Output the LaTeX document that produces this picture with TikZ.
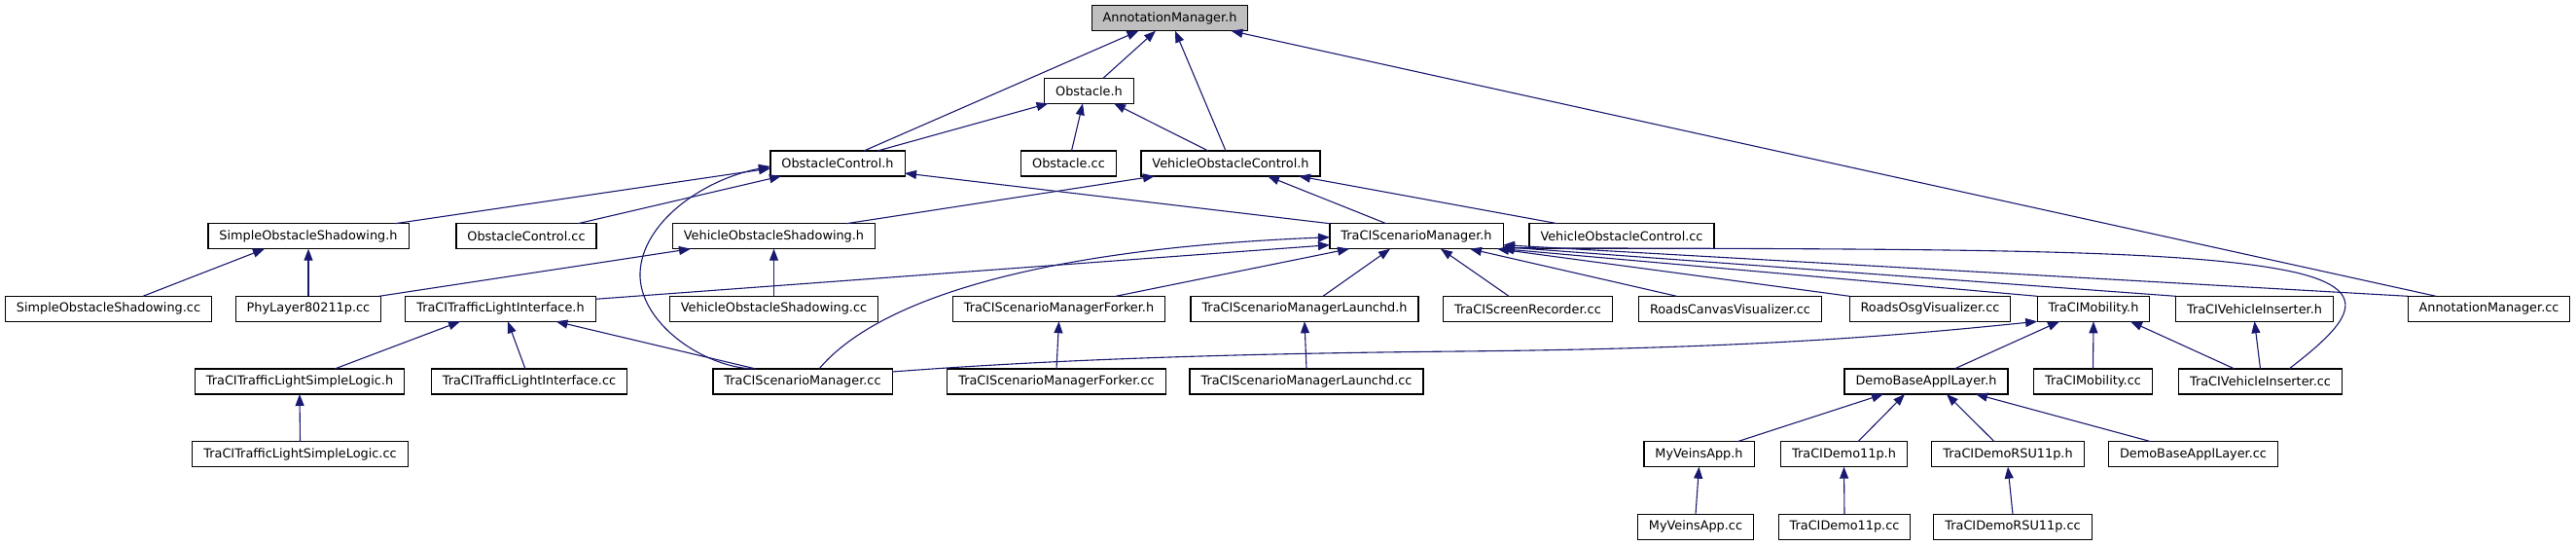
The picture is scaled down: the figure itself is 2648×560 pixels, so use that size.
\documentclass[tikz,border=0pt]{standalone}
\usepackage{fontspec}
\setmainfont{DejaVu Sans}
\usetikzlibrary{arrows.meta}
\definecolor{edgecol}{HTML}{191970}
\definecolor{rootfill}{HTML}{BFBFBF}
\begin{document}
\begin{tikzpicture}[x=1pt,y=1pt,
  box/.style={draw=black, line width=1.1pt, fill=white, minimum height=26pt, inner xsep=11.5pt, inner ysep=0pt, outer sep=0pt, font=\fontsize{12.85}{15}\selectfont, anchor=center},
  root/.style={box, fill=rootfill},
  dep/.style={draw=edgecol, line width=1.1pt, -{Triangle[length=12pt,width=9pt]}}]
\fill[white] (0,0) rectangle (2648,-560);
\useasboundingbox (0,0) rectangle (2648,-560);
% row 1
\node[root] (AMh) at (1202.5,-18.7) {AnnotationManager.h};
% row 2
\node[box] (Obsh) at (1119.5,-93.3) {Obstacle.h};
% row 3
\node[box] (OCh) at (861,-168) {ObstacleControl.h};
\node[box] (Obscc) at (1098.5,-168) {Obstacle.cc};
\node[box] (VOCh) at (1265,-168) {VehicleObstacleControl.h};
% row 4
\node[box] (SOSh) at (317,-242.7) {SimpleObstacleShadowing.h};
\node[box] (OCcc) at (541,-242.7) {ObstacleControl.cc};
\node[box] (VOSh) at (795.5,-242.7) {VehicleObstacleShadowing.h};
\node[box] (TSMh) at (1456,-242.7) {TraCIScenarioManager.h};
\node[box] (VOCcc) at (1667,-242.7) {VehicleObstacleControl.cc};
% row 5
\node[box] (SOScc) at (111.5,-317.3) {SimpleObstacleShadowing.cc};
\node[box] (PHYcc) at (317,-317.3) {PhyLayer80211p.cc};
\node[box] (TTLIh) at (514.5,-317.3) {TraCITrafficLightInterface.h};
\node[box] (VOScc) at (795.5,-317.3) {VehicleObstacleShadowing.cc};
\node[box] (Forkh) at (1088.5,-317.3) {TraCIScenarioManagerForker.h};
\node[box] (Lauh) at (1341,-317.3) {TraCIScenarioManagerLaunchd.h};
\node[box] (ScrRcc) at (1570.5,-317.3) {TraCIScreenRecorder.cc};
\node[box] (RCVcc) at (1778.5,-317.3) {RoadsCanvasVisualizer.cc};
\node[box] (ROVcc) at (1984,-317.3) {RoadsOsgVisualizer.cc};
\node[box] (TMh) at (2152,-317.3) {TraCIMobility.h};
\node[box] (TVIh) at (2317.5,-317.3) {TraCIVehicleInserter.h};
\node[box] (AMcc) at (2558.5,-317.3) {AnnotationManager.cc};
% row 6
\node[box] (TTLSLh) at (308,-392) {TraCITrafficLightSimpleLogic.h};
\node[box] (TTLIcc) at (544,-392) {TraCITrafficLightInterface.cc};
\node[box] (TSMcc) at (825,-392) {TraCIScenarioManager.cc};
\node[box] (Forkcc) at (1086,-392) {TraCIScenarioManagerForker.cc};
\node[box] (Laucc) at (1343,-392) {TraCIScenarioManagerLaunchd.cc};
\node[box] (DBALh) at (1980,-392) {DemoBaseApplLayer.h};
\node[box] (TMcc) at (2151.5,-392) {TraCIMobility.cc};
\node[box] (TVIcc) at (2323.5,-392) {TraCIVehicleInserter.cc};
% row 7
\node[box] (TTLSLcc) at (308.5,-466.7) {TraCITrafficLightSimpleLogic.cc};
\node[box] (MVAh) at (1746.5,-466.7) {MyVeinsApp.h};
\node[box] (TD11h) at (1895.5,-466.7) {TraCIDemo11p.h};
\node[box] (TDRSUh) at (2064,-466.7) {TraCIDemoRSU11p.h};
\node[box] (DBALcc) at (2254.5,-466.7) {DemoBaseApplLayer.cc};
% row 8
\node[box] (MVAcc) at (1743,-541.3) {MyVeinsApp.cc};
\node[box] (TD11cc) at (1896,-541.3) {TraCIDemo11p.cc};
\node[box] (TDRSUcc) at (2069,-541.3) {TraCIDemoRSU11p.cc};

% edges
\draw[dep] ([xshift=14.5pt]Obsh.north) -- ([xshift=-14.5pt]AMh.south);
\draw[dep] ([xshift=27pt]OCh.north) -- ([xshift=-32pt]AMh.south);
\draw[dep] ([xshift=-5pt]VOCh.north) -- ([xshift=5.5pt]AMh.south);
\draw[dep] ([xshift=-54.5pt]AMcc.north) -- ([xshift=63pt]AMh.south);
\draw[dep] ([xshift=41pt]OCh.north) -- ([xshift=-42pt]Obsh.south);
\draw[dep] ([xshift=3pt]Obscc.north) -- ([xshift=-6.5pt]Obsh.south);
\draw[dep] ([xshift=-23pt]VOCh.north) -- ([xshift=25.5pt]Obsh.south);
\draw[dep] ([xshift=89pt]SOSh.north) -- ([yshift=-5pt]OCh.west);
\draw[dep] ([xshift=53pt]OCcc.north) -- ([xshift=-58pt]OCh.south);
\draw[dep] ([xshift=-52pt]TSMcc.north) .. controls (720,-376) and (656,-330) .. (658,-280) .. controls (660,-230) and (720,-185) .. ([yshift=-3pt]OCh.west);
\draw[dep] (TSMh.north west) -- ([yshift=-10pt]OCh.east);
\draw[dep] ([xshift=74.5pt]VOSh.north) -- ([xshift=-78pt]VOCh.south);
\draw[dep] ([xshift=-31pt]TSMh.north) -- ([xshift=38pt]VOCh.south);
\draw[dep] ([xshift=-66pt]VOCcc.north) -- ([xshift=70pt]VOCh.south);
\draw[dep] ([xshift=35.5pt]SOScc.north) -- ([xshift=-45pt]SOSh.south);
\draw[dep] (PHYcc.north) -- (SOSh.south);
\draw[dep] ([xshift=-2pt]PHYcc.north east) -- ([xshift=-85.5pt]VOSh.south);
\draw[dep] (VOScc.north) -- (VOSh.south);
\draw[dep] ([yshift=-3pt]TTLIh.north east) -- ([yshift=-9pt]TSMh.west);
\draw[dep] ([xshift=17pt]TSMcc.north) .. controls (900,-310) and (1060,-256) .. ([yshift=-1pt]TSMh.west);
\draw[dep] ([xshift=58.5pt]Forkh.north) -- ([xshift=-69pt]TSMh.south);
\draw[dep] ([xshift=19pt]Lauh.north) -- ([xshift=-27pt]TSMh.south);
\draw[dep] ([xshift=-19.5pt]ScrRcc.north) -- ([xshift=25pt]TSMh.south);
\draw[dep] ([xshift=-55pt]RCVcc.north) -- ([xshift=55pt]TSMh.south);
\draw[dep] (ROVcc.north west) -- ([xshift=-6pt]TSMh.south east);
\draw[dep] (TMh.north west) -- ([xshift=-1pt]TSMh.south east);
\draw[dep] (TVIh.north west) -- ([yshift=2pt]TSMh.south east);
\draw[dep] (AMcc.north west) -- ([yshift=4pt]TSMh.south east);
\draw[dep] ([xshift=29.5pt]TVIcc.north) .. controls (2410,-335) and (2445,-300) .. (2360,-280) .. controls (2250,-255) and (2000,-256) .. ([yshift=1pt]TSMh.south east);
\draw[dep] ([xshift=36pt]TTLSLh.north) -- ([xshift=-41.5pt]TTLIh.south);
\draw[dep] ([xshift=-4pt]TTLIcc.north) -- ([xshift=7.5pt]TTLIh.south);
\draw[dep] ([xshift=-48pt]TSMcc.north) -- ([xshift=57pt]TTLIh.south);
\draw[dep] (TTLSLcc.north) -- (TTLSLh.south);
\draw[dep] (Forkcc.north) -- (Forkh.south);
\draw[dep] (Laucc.north) -- (Lauh.south);
\draw[dep] ([yshift=-3pt]TSMcc.north east) .. controls (1100,-368) and (1300,-363) .. (1500,-361) .. controls (1800,-358) and (1950,-345) .. (TMh.south west);
\draw[dep] ([xshift=29pt]DBALh.north) -- ([xshift=-35pt]TMh.south);
\draw[dep] (TMcc.north) -- (TMh.south);
\draw[dep] ([xshift=-26.5pt]TVIcc.north) -- ([xshift=38pt]TMh.south);
\draw[dep] (TVIcc.north) -- (TVIh.south);
\draw[dep] ([xshift=39.5pt]MVAh.north) -- ([xshift=-44pt]DBALh.south);
\draw[dep] ([xshift=14.5pt]TD11h.north) -- ([xshift=-22pt]DBALh.south);
\draw[dep] ([xshift=-14pt]TDRSUh.north) -- ([xshift=21pt]DBALh.south);
\draw[dep] ([xshift=-43.5pt]DBALcc.north) -- ([xshift=51pt]DBALh.south);
\draw[dep] (MVAcc.north) -- (MVAh.south);
\draw[dep] (TD11cc.north) -- (TD11h.south);
\draw[dep] (TDRSUcc.north) -- (TDRSUh.south);
\end{tikzpicture}
\end{document}
